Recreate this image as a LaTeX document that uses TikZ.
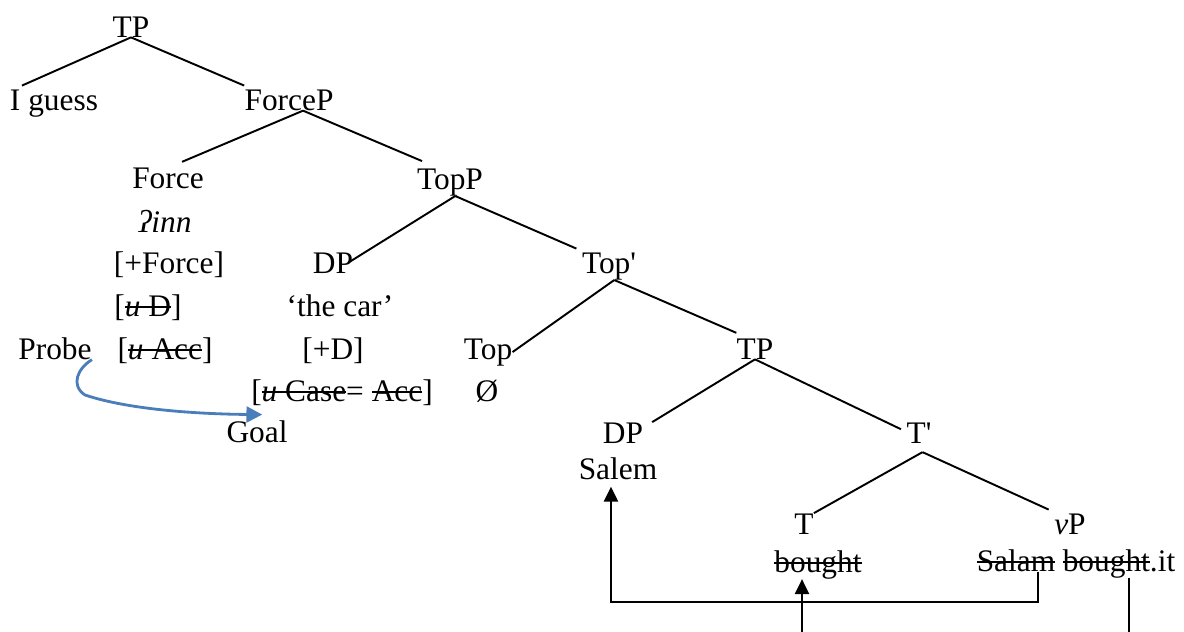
\documentclass[tikz,border=0pt]{standalone}
\usepackage{fontspec}
\setmainfont{Liberation Serif}
\usepackage{tikz}
\usetikzlibrary{arrows.meta}
\definecolor{probeblue}{RGB}{74,126,187}
\newsavebox{\strkbox}
\newcommand{\strk}[1]{\sbox{\strkbox}{#1}\rlap{\rule[0.25em]{\wd\strkbox}{1pt}}\usebox{\strkbox}}

\begin{document}
\begin{tikzpicture}[
    x=0.02cm, y=-0.02cm,
    every node/.style={inner sep=0pt, anchor=base, font=\fontsize{17.86}{20}\selectfont},
    branch/.style={line width=1.1pt},
    move/.style={line width=1.2pt, -{Triangle[length=8.5pt, width=8pt]}},
    agree/.style={draw=probeblue, line width=1.6pt, -{Triangle[length=9pt, width=9pt]}},
  ]
  \useasboundingbox (0,0) rectangle (1184,632);

  \node (TPa)    at (131, 37)  {TP};
  \node (Iguess) at (54, 110)  {I guess};
  \node (ForceP) at (289, 110) {ForceP};
  \node (Force)  at (168, 188) {Force};
  \node (TopP)   at (450, 189) {TopP};
  \node (inn)    at (165, 232) {\textit{ʔinn}};
  \node (fForce) at (169, 273) {[+Force]};
  \node (DPa)    at (333, 273) {DP};
  \node (Topbar) at (609, 273) {Top\textquotesingle};
  \node (fuD)    at (148, 316) {[\strk{\textit{u} D}]};
  \node (car)    at (340, 316) {‘the car’};
  \node (Probe)  at (55, 359)  {Probe};
  \node (fuAcc)  at (165, 359) {[\strk{\textit{u} Acc}]};
  \node (fD)     at (333, 359) {[+D]};
  \node (Top)    at (488, 359) {Top};
  \node (TPb)    at (755, 359) {TP};
  \node (fCase)  at (342, 401) {[\strk{\textit{u} Case}= \strk{Acc}]};
  \node (null)   at (487, 401) {Ø};
  \node (Goal)   at (257, 442) {Goal};
  \node (DPb)    at (623, 443) {DP};
  \node (Tbar)   at (919, 443) {T\textquotesingle};
  \node (Salem)  at (618, 479) {Salem};
  \node (T)      at (804, 534) {T};
  \node (vP)     at (1070, 534) {\textit{v}P};
  \node (boughtT) at (818, 572) {\strk{bought}};
  \node (Salam)  at (1016, 571) {\strk{Salam}};
  \node (boughtit) at (1119, 571) {\strk{bought}.it};

  \coordinate (sx) at (1038, 602);
  \coordinate (bx) at (1129, 632);
  \coordinate (tx) at (802, 632);

  \draw[branch] (TPa.south) -- ([xshift=7pt, yshift=2pt]Iguess.north west);
  \draw[branch] (TPa.south) -- ([yshift=2pt]ForceP.north west);
  \draw[branch] ([xshift=8pt]ForceP.south) -- ([xshift=8pt, yshift=3pt]Force.north);
  \draw[branch] ([xshift=8pt]ForceP.south) -- ([xshift=3pt, yshift=4pt]TopP.north west);
  \draw[branch] ([xshift=3pt]TopP.south) -- ([xshift=-3pt]DPa.east);
  \draw[branch] ([xshift=3pt]TopP.south) -- ([xshift=-3pt, yshift=2pt]Topbar.north west);
  \draw[branch] ([xshift=3pt]Topbar.south) -- (Top.east);
  \draw[branch] ([xshift=3pt]Topbar.south) -- ([yshift=3pt]TPb.north west);
  \draw[branch] (TPb.south) -- ([xshift=5pt]DPb.north east);
  \draw[branch] (TPb.south) -- ([xshift=-3pt, yshift=2pt]Tbar.west);
  \draw[branch] ([xshift=2pt, yshift=-5pt]Tbar.south) -- (T.north east);
  \draw[branch] ([xshift=2pt, yshift=-5pt]Tbar.south) -- ([xshift=-3pt, yshift=2pt]vP.north west);

  \draw[agree] (Probe.south east) .. controls (78, 368) and (70, 385) .. (85, 395)
    .. controls (130, 410) and (200, 414) .. ([xshift=3pt, yshift=3pt]Goal.north);

  \draw[move] (sx |- Salam.south) -- (sx) -| ([xshift=-4pt, yshift=-4pt]Salem.south);
  \draw[line width=1.2pt] (bx |- boughtit.south) -- (bx);
  \draw[move] (tx) -- (tx |- boughtT.south);

\end{tikzpicture}
\end{document}
